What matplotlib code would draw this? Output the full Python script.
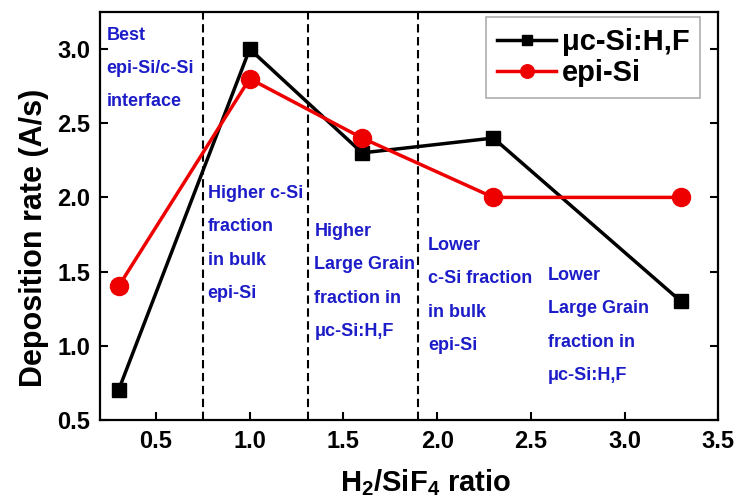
import matplotlib
matplotlib.use('Agg')
import matplotlib.pyplot as plt

plt.rcParams['font.family'] = ['Liberation Sans', 'DejaVu Sans']
plt.rcParams['font.weight'] = 'bold'
plt.rcParams['mathtext.fontset'] = 'custom'
plt.rcParams['mathtext.rm'] = 'Liberation Sans:bold'
plt.rcParams['mathtext.it'] = 'Liberation Sans:bold'

# data
ratio = [0.3, 1.0, 1.6, 2.3, 3.3]
rate_uc = [0.7, 3.0, 2.3, 2.4, 1.3]
rate_epi = [1.4, 2.8, 2.4, 2.0, 2.0]
borders = [0.75, 1.31, 1.9]

notes = [
    (0.235, 3.15, "Best\nepi-Si/c-Si\ninterface"),
    (0.775, 2.083, "Higher c-Si\nfraction\nin bulk\nepi-Si"),
    (1.345, 1.826, "Higher\nLarge Grain\nfraction in\nμc-Si:H,F"),
    (1.95, 1.733, "Lower\nc-Si fraction\nin bulk\nepi-Si"),
    (2.59, 1.53, "Lower\nLarge Grain\nfraction in\nμc-Si:H,F"),
]

fig = plt.figure(figsize=(7.39, 4.97), dpi=100)
ax = fig.add_axes([0.135, 0.155, 0.837, 0.821])

for b in borders:
    ax.axvline(b, color='black', ls=(0, (4, 2.2)), lw=1.5)

ax.plot(ratio, rate_uc, color='black', lw=2.5, marker='s', ms=10,
        label='μc-Si:H,F', zorder=3)
ax.plot(ratio, rate_epi, color='#ee0000', lw=2.5, marker='o', ms=13,
        label='epi-Si', zorder=3)

for x, y, s in notes:
    ax.text(x, y, s, color='#1c1cc8', fontsize=13, fontweight='bold',
            va='top', ha='left', linespacing=2.25)

ax.set_xlim(0.2, 3.5)
ax.set_ylim(0.5, 3.25)
ax.set_xticks([0.5, 1.0, 1.5, 2.0, 2.5, 3.0, 3.5])
ax.set_yticks([0.5, 1.0, 1.5, 2.0, 2.5, 3.0])
ax.tick_params(direction='in', length=6, width=1.5, labelsize=17,
               right=True, pad=7)
for sp in ax.spines.values():
    sp.set_linewidth(1.6)

ax.set_xlabel('H$_2$/SiF$_4$ ratio', fontsize=21, fontweight='bold')
ax.set_ylabel('Deposition rate (A/s)', fontsize=22, fontweight='bold')
ax.xaxis.set_label_coords(0.527, -0.115)
ax.yaxis.set_label_coords(-0.082, 0.446)

leg = ax.legend(loc='upper right', bbox_to_anchor=(0.971, 0.988),
                fontsize=21, frameon=True, fancybox=False, markerscale=0.75,
                handlelength=2.0, handletextpad=0.2, borderpad=0.38,
                labelspacing=0.1, borderaxespad=0.0)
leg.get_frame().set_edgecolor('#999999')
leg.get_frame().set_linewidth(1.2)

fig.savefig('out.png', dpi=100)
